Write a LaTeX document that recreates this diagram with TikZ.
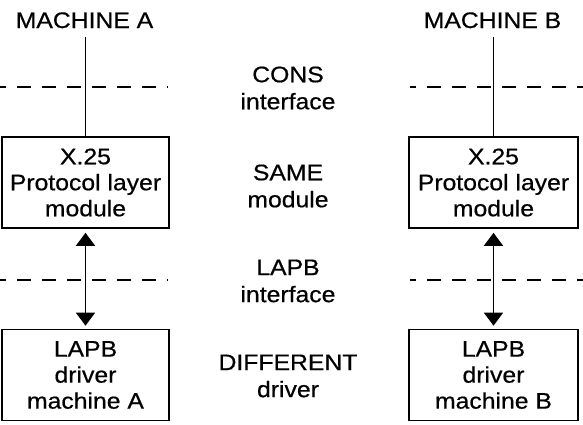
\documentclass[tikz,border=0pt]{standalone}
\usepackage{fontspec}
\setmainfont[FakeStretch=1.1,FakeBold=0.6]{Liberation Sans}
\usetikzlibrary{arrows.meta}
\tikzset{
  lbl/.style={font=\fontsize{22.5}{26}\selectfont, inner sep=0pt, align=center},
  midlbl/.style={font=\fontsize{22.5}{27}\selectfont, inner sep=0pt, align=center},
  box/.style={draw, line width=1.6pt, minimum width=167pt, minimum height=91pt, inner sep=0pt, align=center, font=\fontsize{22.5}{26}\selectfont},
  iface/.style={line width=1.6pt, dash pattern=on 14pt off 11pt, dash phase=8pt},
  link/.style={line width=1.5pt},
  dbl/.style={line width=1.5pt, {Triangle[length=13pt,width=19pt]}-{Triangle[length=13pt,width=19pt]}, shorten <=4pt, shorten >=3pt}
}
\begin{document}
\begin{tikzpicture}[x=1pt,y=-1pt]
\useasboundingbox (0,0) rectangle (583,424);
% titles
\node[lbl, anchor=base] (ma) at (84.5,28) {MACHINE A};
\node[lbl, anchor=base] (mb) at (492.5,28) {MACHINE B};
% boxes
\node[box] (A1) at (85.5,182.5) {X.25\\Protocol layer\\module};
\node[box] (A2) at (85.5,375) {LAPB\\driver\\machine A};
\node[box, minimum width=169pt] (B1) at (493.5,182.5) {X.25\\Protocol layer\\module};
\node[box, minimum width=169pt] (B2) at (493.5,375) {LAPB\\driver\\machine B};
% middle labels
\node[midlbl] (cons) at (288,88) {CONS\\interface};
\node[midlbl] (same) at (288,186) {SAME\\module};
\node[midlbl] (lapb) at (288,281) {LAPB\\interface};
\node[midlbl] (diff) at (288,376) {DIFFERENT\\driver};
% interface lines
\coordinate (c1l) at (0,87);
\coordinate (c1r) at (168,87);
\coordinate (c2l) at (410,87);
\coordinate (c2r) at (583,87);
\coordinate (l1l) at (0,280);
\coordinate (l1r) at (168,280);
\coordinate (l2l) at (410,280);
\coordinate (l2r) at (583,280);
\draw[iface] (c1l) -- (c1r);
\draw[iface] (c2l) -- (c2r);
\draw[iface] (l1l) -- (l1r);
\draw[iface] (l2l) -- (l2r);
% vertical links
\coordinate (ta) at (85.5,37);
\coordinate (tb) at (493.5,37);
\draw[link] (ta) -- (A1.north);
\draw[link] (tb) -- (B1.north);
\draw[dbl] (A1.south) -- (A2.north);
\draw[dbl] (B1.south) -- (B2.north);
\end{tikzpicture}
\end{document}
